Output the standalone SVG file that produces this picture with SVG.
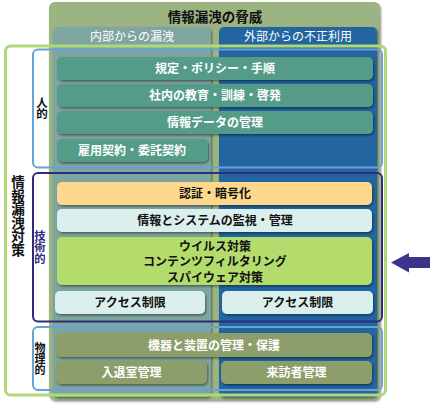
<svg xmlns="http://www.w3.org/2000/svg" width="430" height="408" viewBox="0 0 430 408">
<defs>
<filter id="sh" x="-5%" y="-20%" width="110%" height="150%">
<feDropShadow dx="1" dy="1.5" stdDeviation="0.8" flood-color="#000" flood-opacity="0.45"/>
</filter>
<style>
text{font-family:"Noto Sans CJK JP","Noto Sans",sans-serif;}
.t{font-size:12px;font-weight:bold;text-anchor:middle;}
.w{fill:#ffffff;}
.k{fill:#111111;}
.teal{fill:#559c88;}
.oliv{fill:#8c9e6a;}
.org{fill:#fdd88d;}
.cyan{fill:#dbf0ec;}
.lg{fill:#b3dc6c;}
.vt{font-weight:bold;writing-mode:vertical-rl;text-anchor:start;}
</style>
</defs>
<rect width="430" height="408" fill="#ffffff"/>

<g id="threat">
<rect x="49" y="2" width="331" height="398" rx="6" fill="#9bb482" filter="url(#sh)"/>
<text x="215" y="22" class="k" style="font-size:13.5px;font-weight:bold;text-anchor:middle">情報漏洩の脅威</text>
</g>
<g id="internal">
<rect x="53" y="27" width="158" height="370" rx="5" fill="#7fa5a0" filter="url(#sh)"/>
<text x="132" y="41" class="t w" style="font-weight:normal">内部からの漏洩</text>
</g>
<g id="external">
<rect x="219" y="27" width="158" height="370" rx="5" fill="#2265a0" filter="url(#sh)"/>
<text x="298" y="41" class="t w" style="font-weight:normal">外部からの不正利用</text>
</g>

<g id="human-boxes">
<g id="n1"><rect x="57" y="57" width="316" height="23" rx="5" class="teal" filter="url(#sh)"/><text x="215" y="73" class="t w">規定・ポリシー・手順</text></g>
<g id="n2"><rect x="57" y="84" width="316" height="23" rx="5" class="teal" filter="url(#sh)"/><text x="215" y="100" class="t w">社内の教育・訓練・啓発</text></g>
<g id="n3"><rect x="57" y="111" width="316" height="23" rx="5" class="teal" filter="url(#sh)"/><text x="215" y="127" class="t w">情報データの管理</text></g>
<g id="n4"><rect x="57" y="139" width="151" height="23" rx="5" class="teal" filter="url(#sh)"/><text x="132" y="155" class="t w">雇用契約・委託契約</text></g>
</g>

<g id="tech-boxes">
<g id="n5"><rect x="57" y="182" width="315" height="23" rx="5" class="org" filter="url(#sh)"/><text x="215" y="198" class="t k">認証・暗号化</text></g>
<g id="n6"><rect x="57" y="209" width="315" height="23" rx="5" class="cyan" filter="url(#sh)"/><text x="215" y="225" class="t k">情報とシステムの監視・管理</text></g>
<g id="n7"><rect x="57" y="237" width="315" height="48" rx="5" class="lg" filter="url(#sh)"/>
<text class="t k"><tspan x="215" y="250.5">ウイルス対策</tspan><tspan x="215" y="266">コンテンツフィルタリング</tspan><tspan x="215" y="281.5">スパイウェア対策</tspan></text></g>
<g id="n8"><rect x="55" y="291" width="150" height="23" rx="5" class="cyan" filter="url(#sh)"/><text x="130" y="307" class="t k">アクセス制限</text></g>
<g id="n9"><rect x="222" y="291" width="151" height="23" rx="5" class="cyan" filter="url(#sh)"/><text x="297.5" y="307" class="t k">アクセス制限</text></g>
</g>

<g id="phys-boxes">
<g id="n10"><rect x="56" y="333" width="316" height="24" rx="5" class="oliv" filter="url(#sh)"/><text x="214" y="349.5" class="t w">機器と装置の管理・保護</text></g>
<g id="n11"><rect x="56" y="361" width="151" height="23" rx="5" class="oliv" filter="url(#sh)"/><text x="131.5" y="377" class="t w">入退室管理</text></g>
<g id="n12"><rect x="221" y="361" width="151" height="23" rx="5" class="oliv" filter="url(#sh)"/><text x="296.5" y="377" class="t w">来訪者管理</text></g>
</g>

<g id="frames">
<g id="measures">
<rect x="5.5" y="46" width="380" height="349" rx="5" fill="none" stroke="#b0d878" stroke-width="3"/>
<text x="18" y="175" class="vt k" style="font-size:13.6px">情報漏洩対策</text>
</g>
<g id="human">
<rect x="33" y="49.5" width="349" height="118" rx="5" fill="none" stroke="#66a3d4" stroke-width="2"/>
<text x="42" y="96.5" class="vt k" style="font-size:11.5px">人的</text>
</g>
<g id="tech">
<rect x="33" y="173" width="349" height="148.5" rx="5" fill="none" stroke="#2d2c7d" stroke-width="2"/>
<text x="40" y="230" class="vt" fill="#2d2c7d" style="font-size:11.3px">技術的</text>
</g>
<g id="physical">
<rect x="33" y="327" width="349" height="63" rx="5" fill="none" stroke="#66a3d4" stroke-width="2"/>
<text x="40" y="342" class="vt k" style="font-size:11px">物理的</text>
</g>
</g>

<g id="connectors">
<polygon points="391,262.5 409,253 409,257 430,257 430,268 409,268 409,272.5" fill="#3b3489"/>
</g>
</svg>
